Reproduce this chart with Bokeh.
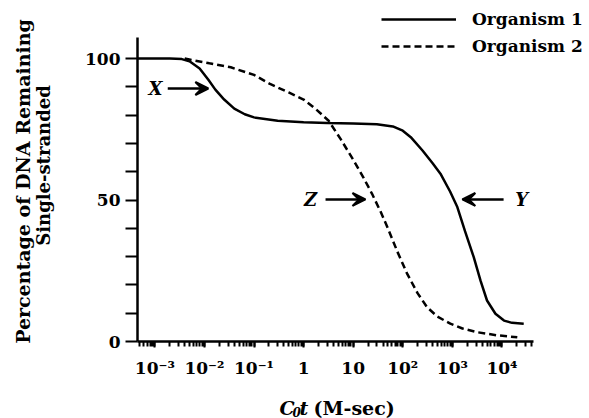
import math
from bokeh.plotting import figure
from bokeh.models import (Range1d, FixedTicker, LogTicker, CustomJSTickFormatter,
                          Label, Arrow, VeeHead, Legend, LegendItem)
from bokeh.embed import file_html
from bokeh.resources import INLINE

# ---------------- data ----------------
org1_cot = [0.00045, 0.001, 0.002, 0.0035, 0.005, 0.008, 0.012, 0.0166, 0.025, 0.04,
            0.065, 0.1, 0.3, 1, 3, 10, 30, 63, 100, 145, 250, 400, 575, 900, 1260, 1800,
            2700, 3700, 5000, 7400, 11000, 16000, 27500]
org1_pct = [100, 100, 100, 99.8, 99, 96.5, 92.5, 89, 85.5, 82.3,
            80.3, 79.2, 78, 77.5, 77.2, 77, 76.8, 76, 74.5, 72.2, 67.5, 63, 59.3, 53, 47.5, 39,
            29.8, 21.5, 14.5, 9.8, 7.4, 6.6, 6.3]

org2_cot = [0.004, 0.0063, 0.0126, 0.034, 0.1, 0.21, 0.5, 1, 1.8, 3.2, 5.6, 10.2, 16,
            24, 35.5, 49, 79, 123, 200, 310, 500, 910, 1600, 3160, 7900, 20400]
org2_pct = [100, 99.3, 98.3, 96.9, 94.2, 91, 88, 85.5, 82, 78, 71.5, 64, 58,
            52.2, 46, 40.4, 31.5, 23.9, 17, 12.1, 8.8, 6.3, 4.6, 3.3, 2.2, 1.5]

series_names = ["Organism 1", "Organism 2"]
y_major = [0, 50, 100]
y_minor = [10, 20, 30, 40, 60, 70, 80, 90]
x_axis_span = (10 ** -3.35, 10 ** 4.637)   # extent of the drawn x axis
y_axis_span = (0, 107.4)                   # extent of the drawn y axis

# annotation letters: (letter, letter_x, y, arrow_start_x, arrow_end_x)
marks = [("X", 0.00103, 89.4, 0.00182, 0.0120),
         ("Z", 1.39, 50.2, 2.77, 17.7),
         ("Y", 25000, 50.2, 10800, 1590)]

SERIF = "DejaVu Serif"
W, H = 589, 418

# frame covers the whole canvas; axes are placed at fixed locations inside it
p = figure(width=W, height=H, x_axis_type="log",
           x_range=Range1d(10 ** -6.113, 10 ** 5.766), y_range=Range1d(-27.2, 120.5),
           output_backend="svg", toolbar_location=None,
           min_border_left=0, min_border_right=0, min_border_top=0, min_border_bottom=0)
p.outline_line_color = None
p.xgrid.visible = False
p.ygrid.visible = False
p.background_fill_color = "white"
p.border_fill_color = "white"

r1 = p.line(org1_cot, org1_pct, line_color="black", line_width=2.5)
r2 = p.line(org2_cot, org2_pct, line_color="black", line_width=2.5, line_dash="7 4")

# axes
xa = p.xaxis[0]
ya = p.yaxis[0]
xa.fixed_location = 0
ya.fixed_location = x_axis_span[0]
xa.bounds = x_axis_span
ya.bounds = y_axis_span

xa.ticker = LogTicker(num_minor_ticks=10, desired_num_ticks=10)
xa.formatter = CustomJSTickFormatter(code="""
const e = Math.round(Math.log10(tick));
const sup = {"-": "\u207b", "0": "\u2070", "1": "\u00b9", "2": "\u00b2", "3": "\u00b3",
             "4": "\u2074", "5": "\u2075", "6": "\u2076", "7": "\u2077", "8": "\u2078", "9": "\u2079"};
if (e == 0) return "1";
if (e == 1) return "10";
return "10" + String(e).split("").map(c => sup[c]).join("");
""")
for ax in (xa, ya):
    ax.axis_line_width = 2.5
    ax.axis_line_color = "black"
    ax.major_tick_line_width = 2
    ax.minor_tick_line_width = 2
    ax.major_tick_line_color = "black"
    ax.minor_tick_line_color = "black"
    ax.major_tick_in = 0
    ax.minor_tick_in = 0
    ax.major_label_text_font = SERIF
    ax.major_label_text_font_style = "bold"
    ax.major_label_text_font_size = "17px"
    ax.major_label_text_color = "black"

xa.major_tick_out = 6
xa.minor_tick_out = 5
xa.major_label_standoff = 10

ya.ticker = FixedTicker(ticks=y_major, minor_ticks=y_minor)
ya.major_tick_out = 12
ya.minor_tick_out = 12
ya.major_label_standoff = 5

# legend (top right)
legend = Legend(items=[LegendItem(label=series_names[0], renderers=[r1]),
                       LegendItem(label=series_names[1], renderers=[r2])],
                location=(381, 362), orientation="vertical",
                glyph_width=75, glyph_height=20, label_height=20, spacing=7,
                label_standoff=16, padding=0, margin=0,
                border_line_color=None, background_fill_alpha=0,
                label_text_font=SERIF, label_text_font_style="bold",
                label_text_font_size="17px", label_text_color="black")
p.add_layout(legend)

# letters and arrows
for letter, lx, ly, ax0, ax1 in marks:
    p.add_layout(Label(x=lx, y=ly, text=letter, text_font=SERIF,
                       text_font_style="bold italic", text_font_size="18px",
                       text_align="center", text_baseline="middle", text_color="black"))
    p.add_layout(Arrow(x_start=ax0, y_start=ly, x_end=ax1, y_end=ly,
                       line_width=2.5, line_color="black",
                       end=VeeHead(size=13, fill_color="black", line_color="black",
                                   line_width=2)))

# text helper in page pixels (origin top-left)
def txt(text, x, y, style="bold", size="18px", align="left", baseline="alphabetic", angle=0.0):
    p.add_layout(Label(x=x, y=H - y, x_units="screen", y_units="screen", text=text,
                       angle=angle, text_font=SERIF, text_font_style=style,
                       text_font_size=size, text_align=align, text_baseline=baseline,
                       text_color="black"))

# y axis title (two rotated lines)
txt("Percentage of DNA Remaining", 22, 181, size="19px", align="center", baseline="middle",
    angle=math.pi / 2)
txt("Single-stranded", 43, 165, size="18px", align="center", baseline="middle",
    angle=math.pi / 2)

# x axis title: C0t (M-sec)
txt("C", 279, 407, style="bold italic", size="19px")
txt("0", 292, 411, style="bold italic", size="12px")
txt("t", 299, 407, style="bold italic", size="19px")
txt("(M-sec)", 313, 407, style="bold", size="19px")

open("out.html", "w").write(file_html(p, INLINE))
